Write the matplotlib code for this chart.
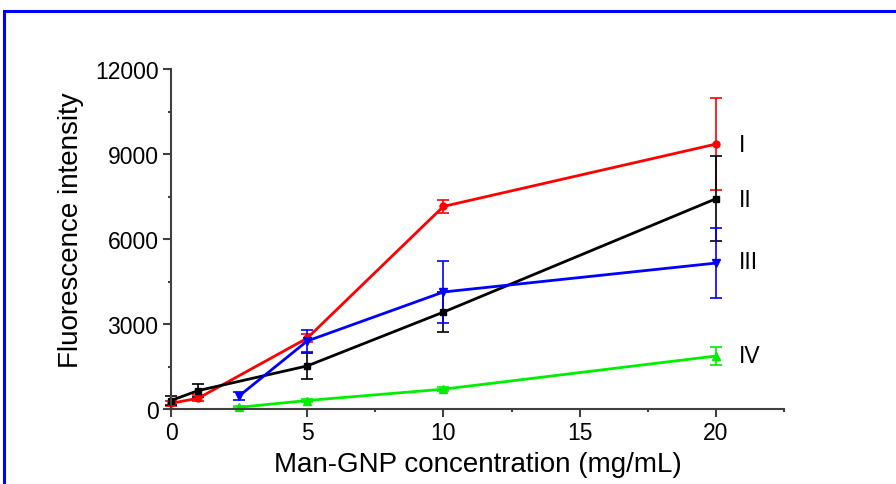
import matplotlib
matplotlib.use("Agg")
import matplotlib.pyplot as plt
from matplotlib.patches import Rectangle
from matplotlib.ticker import MultipleLocator

plt.rcParams['font.family'] = ['Liberation Sans', 'DejaVu Sans']

# Series I (red, circles)
x_I = [0, 1, 5, 10, 20]
y_I = [200, 380, 2500, 7150, 9350]
e_I = [80, 100, 150, 220, 1620]

# Series II (black, squares)
x_II = [0, 1, 5, 10, 20]
y_II = [300, 650, 1520, 3420, 7420]
e_II = [150, 220, 460, 700, 1500]

# Series III (blue, down triangles)
x_III = [2.5, 5, 10, 20]
y_III = [460, 2400, 4130, 5150]
e_III = [130, 400, 1080, 1230]

# Series IV (green, up triangles)
x_IV = [2.5, 5, 10, 20]
y_IV = [60, 300, 700, 1870]
e_IV = [40, 60, 80, 320]

labels = ['I', 'II', 'III', 'IV']
label_y = [9350, 7400, 5200, 1900]

fig = plt.figure(figsize=(8.96, 4.85), dpi=100)
ax = fig.add_axes([171/896, 1-410/485, (784-171)/896, (410-70)/485])

series = [
    (x_I, y_I, e_I, '#ff0000', 'o', 5),
    (x_II, y_II, e_II, '#000000', 's', 5),
    (x_III, y_III, e_III, '#0000ff', 'v', 6),
    (x_IV, y_IV, e_IV, '#00ee00', '^', 6),
]
for xs, ys, es, c, m, ms in series:
    ax.errorbar(xs, ys, yerr=es, color=c, marker=m, markersize=ms, lw=2,
                elinewidth=1.2, capsize=4, capthick=1.2, clip_on=False)

for lab, ly in zip(labels, label_y):
    ax.text(20.85, ly, lab, fontsize=16.5, ha='left', va='center')

ax.set_xlim(0, 22.5)
ax.set_ylim(0, 12000)
ax.xaxis.set_major_locator(MultipleLocator(5))
ax.xaxis.set_minor_locator(MultipleLocator(2.5))
ax.yaxis.set_major_locator(MultipleLocator(3000))
ax.yaxis.set_minor_locator(MultipleLocator(1500))
ax.spines['top'].set_visible(False)
ax.spines['right'].set_visible(False)
for s in ['left', 'bottom']:
    ax.spines[s].set_color('#404040')
    ax.spines[s].set_linewidth(1.5)
ax.tick_params(which='both', direction='out', color='#404040', width=1.5, labelsize=16.5)
ax.tick_params(which='major', length=5.5)
ax.tick_params(which='minor', length=2.5)
ax.set_xlabel('Man-GNP concentration (mg/mL)', fontsize=20, labelpad=5)
ax.set_ylabel('Fluorescence intensity', fontsize=20)
ax.yaxis.set_label_coords(-0.142, 0.53)

fig.patches.append(Rectangle((4/896, -0.1), 1.2, 1 - 12/485 + 0.1, transform=fig.transFigure,
                             fill=False, edgecolor='#0000ff', lw=2.2))

fig.savefig('out.png', dpi=100)
